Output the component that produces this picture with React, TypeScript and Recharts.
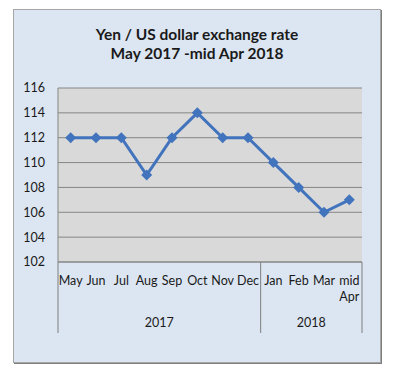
import { LineChart, Line, XAxis, YAxis, CartesianGrid } from "recharts";

const months = ["May", "Jun", "Jul", "Aug", "Sep", "Oct", "Nov", "Dec", "Jan", "Feb", "Mar", "mid Apr"];
const years = ["2017", "2017", "2017", "2017", "2017", "2017", "2017", "2017", "2018", "2018", "2018", "2018"];
const rates = [112, 112, 112, 109, 112, 114, 112, 112, 110, 108, 106, 107];
const yTicks = [102, 104, 106, 108, 110, 112, 114, 116];

const data = months.map((m, i) => ({ month: m, year: years[i], rate: rates[i] }));

const FONT = "Lato, 'Open Sans', sans-serif";
const W = 400;
const H = 376;
const X_HEIGHT = 114;
const Y_WIDTH = 58;
const MARGIN = { top: 88, right: 38, bottom: 0, left: 0 };
const PLOT_W = W - MARGIN.left - MARGIN.right - Y_WIDTH;
const BAND = PLOT_W / months.length;

// year groups: start index + count
const groups: { year: string; start: number; count: number }[] = [];
years.forEach((y, i) => {
  const last = groups[groups.length - 1];
  if (last && last.year === y) last.count += 1;
  else groups.push({ year: y, start: i, count: 1 });
});

function MonthTick(props: any) {
  const { x, y, payload, index } = props;
  const parts = String(payload.value).split(" ");
  const half = BAND / 2;
  const items: any[] = [];
  parts.forEach((p, k) => {
    items.push(
      <text key={"m" + k} x={x} y={y + 23 + k * 16} textAnchor="middle" fill="#1a1a1a" fontSize={12.5} fontFamily={FONT}>
        {p}
      </text>
    );
  });
  groups.forEach((g) => {
    if (index === g.start) {
      items.push(<line key={"sepL" + g.year} x1={x - half} x2={x - half} y1={y} y2={y + 71} stroke="#7f7f7f" />);
    }
    if (index === g.start + g.count - 1 && g === groups[groups.length - 1]) {
      items.push(<line key={"sepR" + g.year} x1={x + half} x2={x + half} y1={y} y2={y + 71} stroke="#7f7f7f" />);
    }
    const mid = g.start + Math.floor((g.count - 1) / 2);
    if (index === mid) {
      const cx = g.count % 2 === 0 ? x + half : x;
      items.push(
        <text key={"yr" + g.year} x={cx} y={y + 65} textAnchor="middle" fill="#1a1a1a" fontSize={12.5} fontFamily={FONT}>
          {g.year}
        </text>
      );
    }
  });
  return <g>{items}</g>;
}

export default function App() {
  return (
    <div style={{ position: "absolute", left: 0, top: 0, width: W, height: H, background: "#fff" }}>
      <div
        style={{
          position: "absolute",
          left: 13,
          top: 9,
          width: 366,
          height: 352,
          background: "#dce6f2",
          border: "1px solid #a6a6a6",
          boxShadow: "1px 1px 0 #7f7f7f",
        }}
      />
      <div
        style={{
          position: "absolute",
          left: 0,
          top: 25,
          width: 394,
          textAlign: "center",
          fontFamily: FONT,
          fontWeight: "bold",
          fontSize: 15.5,
          lineHeight: "19px",
          color: "#1a1a1a",
        }}
      >
        <div>Yen / US dollar exchange rate</div>
        <div>May 2017 -mid Apr 2018</div>
      </div>
      <div style={{ position: "absolute", left: 0, top: 0 }}>
        <LineChart width={W} height={H} data={data} margin={MARGIN}>
          <CartesianGrid fill="#d9d9d9" stroke="#868686" vertical={false} />
          <XAxis
            dataKey="month"
            scale="band"
            interval={0}
            tickLine={false}
            tickSize={0}
            tickMargin={0}
            axisLine={{ stroke: "#868686" }}
            tick={<MonthTick />}
            height={X_HEIGHT}
          />
          <YAxis
            domain={[102, 116]}
            ticks={yTicks}
            interval={0}
            width={Y_WIDTH}
            tickLine={false}
            tickSize={0}
            tickMargin={13}
            axisLine={{ stroke: "#868686" }}
            tick={{ fill: "#1a1a1a", fontSize: 12.5, fontFamily: FONT }}
          />
          <Line
            dataKey="rate"
            stroke="#4274bd"
            strokeWidth={3}
            isAnimationActive={false}
            dot={(p: any) => (
              <path
                key={"d" + p.index}
                d={`M${p.cx},${p.cy - 5.5}L${p.cx + 5.5},${p.cy}L${p.cx},${p.cy + 5.5}L${p.cx - 5.5},${p.cy}Z`}
                fill="#4274bd"
              />
            )}
          />
        </LineChart>
      </div>
    </div>
  );
}
